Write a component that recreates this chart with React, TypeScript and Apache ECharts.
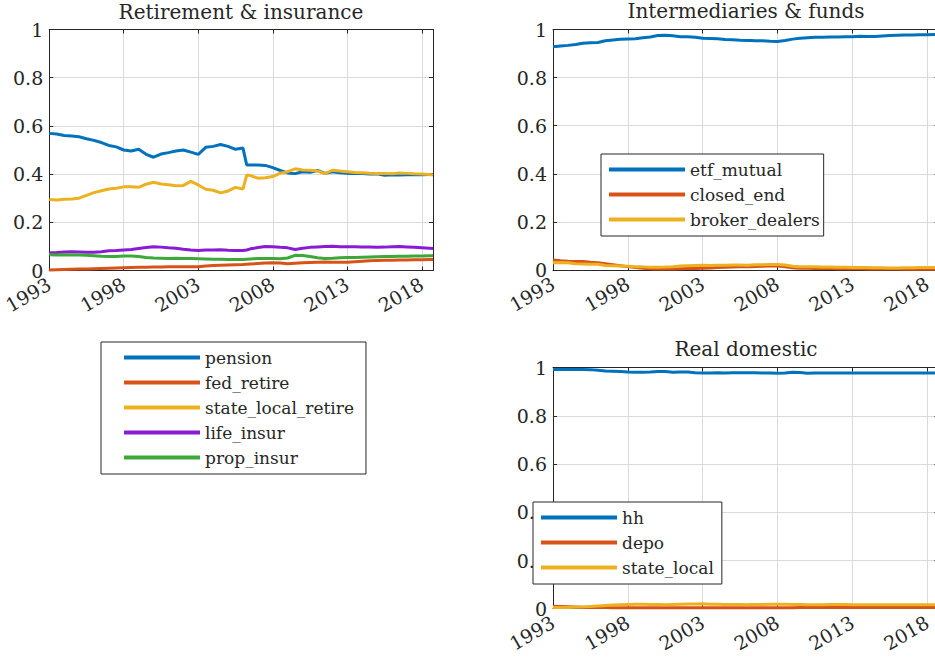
import React, { useEffect, useRef } from 'react';
import * as echarts from 'echarts';

// Sample dates (half-year steps, plus extra points)
const dates = [
  1993, 1993.5, 1994, 1994.5, 1995, 1995.5, 1996, 1996.5, 1997, 1997.5,
  1998, 1998.5, 1999, 1999.5, 2000, 2000.5, 2001, 2001.5, 2002, 2002.5,
  2003, 2003.5, 2004, 2004.5, 2005, 2005.5, 2006, 2006.25, 2006.5,
  2007, 2007.5, 2008, 2008.5, 2009, 2009.5, 2010, 2010.5, 2011, 2011.5,
  2012, 2012.5, 2013, 2013.5, 2014, 2014.5, 2015, 2015.5, 2016, 2016.5,
  2017, 2017.5, 2018, 2018.5, 2018.75,
];

const xTickStart = 1993;
const xTickStep = 5;
const xEnd = 2018.75;

// Retirement & insurance
const pension = [
  0.569, 0.566, 0.560, 0.558, 0.555, 0.547, 0.540, 0.531, 0.519, 0.513,
  0.500, 0.496, 0.503, 0.482, 0.470, 0.483, 0.489, 0.496, 0.500, 0.491,
  0.482, 0.511, 0.515, 0.523, 0.515, 0.503, 0.508, 0.438, 0.438,
  0.438, 0.436, 0.427, 0.415, 0.405, 0.402, 0.410, 0.408, 0.415, 0.403,
  0.410, 0.406, 0.403, 0.404, 0.402, 0.400, 0.401, 0.395, 0.397, 0.396,
  0.397, 0.398, 0.397, 0.398, 0.398,
];
const fedRetire = [
  0.002, 0.003, 0.004, 0.005, 0.006, 0.006, 0.007, 0.008, 0.009, 0.010,
  0.011, 0.012, 0.013, 0.014, 0.015, 0.015, 0.016, 0.016, 0.016, 0.016,
  0.016, 0.019, 0.021, 0.022, 0.023, 0.024, 0.025, 0.026, 0.027,
  0.029, 0.031, 0.032, 0.031, 0.028, 0.030, 0.032, 0.033, 0.034, 0.035,
  0.034, 0.034, 0.034, 0.036, 0.038, 0.040, 0.042, 0.043, 0.043, 0.044,
  0.044, 0.045, 0.045, 0.046, 0.046,
];
const stateLocalRetire = [
  0.295, 0.293, 0.296, 0.297, 0.300, 0.312, 0.323, 0.331, 0.338, 0.341,
  0.347, 0.348, 0.345, 0.358, 0.366, 0.359, 0.356, 0.352, 0.353, 0.370,
  0.355, 0.337, 0.333, 0.322, 0.330, 0.345, 0.338, 0.396, 0.394,
  0.383, 0.385, 0.390, 0.404, 0.410, 0.422, 0.417, 0.416, 0.413, 0.402,
  0.416, 0.413, 0.410, 0.407, 0.406, 0.404, 0.403, 0.403, 0.401, 0.405,
  0.403, 0.401, 0.400, 0.398, 0.396,
];
const lifeInsur = [
  0.074, 0.075, 0.077, 0.078, 0.077, 0.076, 0.076, 0.078, 0.082, 0.083,
  0.085, 0.087, 0.091, 0.095, 0.099, 0.097, 0.094, 0.092, 0.088, 0.085,
  0.083, 0.085, 0.085, 0.086, 0.084, 0.083, 0.083, 0.085, 0.090,
  0.095, 0.100, 0.099, 0.096, 0.094, 0.087, 0.092, 0.096, 0.098, 0.100,
  0.101, 0.099, 0.099, 0.099, 0.098, 0.097, 0.096, 0.097, 0.099, 0.100,
  0.098, 0.096, 0.094, 0.092, 0.091,
];
const propInsur = [
  0.065, 0.064, 0.065, 0.064, 0.064, 0.063, 0.061, 0.059, 0.058, 0.058,
  0.060, 0.060, 0.058, 0.054, 0.052, 0.051, 0.050, 0.051, 0.050, 0.050,
  0.049, 0.048, 0.047, 0.047, 0.046, 0.046, 0.046, 0.047, 0.048,
  0.050, 0.050, 0.050, 0.049, 0.052, 0.063, 0.062, 0.058, 0.053, 0.050,
  0.051, 0.053, 0.054, 0.054, 0.055, 0.056, 0.057, 0.058, 0.058, 0.059,
  0.059, 0.060, 0.060, 0.061, 0.061,
];

// Intermediaries & funds
const etfMutual = [
  0.928, 0.931, 0.934, 0.938, 0.943, 0.945, 0.946, 0.953, 0.956, 0.959,
  0.961, 0.962, 0.966, 0.969, 0.975, 0.976, 0.974, 0.970, 0.970, 0.968,
  0.964, 0.963, 0.962, 0.958, 0.957, 0.955, 0.954, 0.954, 0.953,
  0.953, 0.951, 0.950, 0.954, 0.960, 0.964, 0.966, 0.968, 0.968, 0.969,
  0.969, 0.970, 0.970, 0.972, 0.971, 0.971, 0.973, 0.975, 0.976, 0.977,
  0.977, 0.978, 0.978, 0.979, 0.979,
];
const closedEnd = [
  0.042, 0.038, 0.036, 0.035, 0.035, 0.032, 0.030, 0.026, 0.022, 0.018,
  0.014, 0.010, 0.007, 0.005, 0.004, 0.004, 0.004, 0.005, 0.006, 0.006,
  0.007, 0.008, 0.010, 0.011, 0.012, 0.013, 0.014, 0.014, 0.015,
  0.016, 0.017, 0.017, 0.013, 0.009, 0.007, 0.007, 0.006, 0.006, 0.006,
  0.005, 0.005, 0.005, 0.005, 0.004, 0.004, 0.004, 0.004, 0.004, 0.003,
  0.003, 0.003, 0.003, 0.003, 0.003,
];
const brokerDealers = [
  0.030, 0.031, 0.030, 0.026, 0.025, 0.024, 0.024, 0.019, 0.018, 0.017,
  0.016, 0.014, 0.013, 0.011, 0.011, 0.012, 0.014, 0.017, 0.018, 0.019,
  0.020, 0.019, 0.020, 0.020, 0.021, 0.021, 0.020, 0.021, 0.022,
  0.022, 0.023, 0.023, 0.021, 0.016, 0.014, 0.013, 0.013, 0.012, 0.012,
  0.011, 0.011, 0.010, 0.010, 0.010, 0.009, 0.009, 0.008, 0.008, 0.009,
  0.009, 0.010, 0.010, 0.010, 0.010,
];

// Real domestic
const hh = [
  0.993, 0.993, 0.993, 0.993, 0.993, 0.992, 0.989, 0.986, 0.985, 0.984,
  0.982, 0.981, 0.981, 0.982, 0.984, 0.984, 0.981, 0.982, 0.982, 0.979,
  0.978, 0.978, 0.979, 0.978, 0.979, 0.979, 0.979, 0.979, 0.979,
  0.978, 0.978, 0.977, 0.978, 0.981, 0.980, 0.977, 0.978, 0.978, 0.978,
  0.978, 0.978, 0.978, 0.978, 0.978, 0.978, 0.978, 0.978, 0.978, 0.978,
  0.978, 0.978, 0.978, 0.978, 0.978,
];
const depo = [
  0.010, 0.009, 0.008, 0.007, 0.006, 0.005, 0.005, 0.005, 0.004, 0.004,
  0.004, 0.004, 0.004, 0.004, 0.004, 0.004, 0.004, 0.004, 0.004, 0.004,
  0.004, 0.004, 0.004, 0.004, 0.004, 0.004, 0.004, 0.004, 0.004,
  0.004, 0.004, 0.004, 0.004, 0.004, 0.005, 0.005, 0.005, 0.005, 0.005,
  0.005, 0.005, 0.005, 0.005, 0.005, 0.005, 0.005, 0.005, 0.005, 0.005,
  0.005, 0.005, 0.005, 0.005, 0.005,
];
const stateLocal = [
  0.005, 0.005, 0.005, 0.006, 0.007, 0.009, 0.011, 0.013, 0.015, 0.016,
  0.017, 0.018, 0.018, 0.017, 0.017, 0.016, 0.017, 0.018, 0.019, 0.020,
  0.021, 0.018, 0.018, 0.017, 0.017, 0.017, 0.016, 0.017, 0.017,
  0.017, 0.018, 0.018, 0.018, 0.017, 0.017, 0.016, 0.016, 0.016, 0.017,
  0.017, 0.017, 0.016, 0.016, 0.016, 0.016, 0.016, 0.016, 0.016, 0.016,
  0.016, 0.016, 0.016, 0.016, 0.016,
];

const titles = ['Retirement & insurance', 'Intermediaries & funds', 'Real domestic'];
const legend1 = ['pension', 'fed_retire', 'state_local_retire', 'life_insur', 'prop_insur'];
const legend2 = ['etf_mutual', 'closed_end', 'broker_dealers'];
const legend3 = ['hh', 'depo', 'state_local'];

const BLUE = '#0072BD';
const ORANGE = '#D95319';
const YELLOW = '#EDB120';
const PURPLE = '#8A1BD4';
const GREEN = '#3DA83A';
const AX = '#262626';
const GRIDC = '#dadada';
const FONT = 'DejaVu Serif';

const pairs = (vals: number[]) => dates.map((d, i) => [d, vals[i]]);

function buildOption() {
  const grids = [
    { left: 49, top: 29.5, width: 384, height: 241 },
    { left: 553, top: 29.5, width: 385.5, height: 240.5 },
    { left: 553, top: 367.7, width: 385.5, height: 241 },
  ];
  const tickStyle = { show: true, inside: true, length: 4, lineStyle: { color: AX, width: 1 } };
  const lineAx = { show: true, onZero: false, lineStyle: { color: AX, width: 1 } };
  const xAxes: any[] = [];
  const yAxes: any[] = [];
  grids.forEach((_, g) => {
    xAxes.push({
      type: 'value', gridIndex: g, position: 'bottom', min: xTickStart, max: xEnd, interval: xTickStep,
      axisLine: lineAx, axisTick: tickStyle,
      axisLabel: {
        rotate: 30, margin: 12, fontFamily: FONT, fontSize: 19, color: AX, showMaxLabel: false,
        formatter: (v: number) => String(v),
      },
      splitLine: { show: true, lineStyle: { color: GRIDC, width: 1 } },
    });
    yAxes.push({
      type: 'value', gridIndex: g, position: 'left', min: 0, max: 1, interval: 0.2,
      axisLine: lineAx, axisTick: tickStyle,
      axisLabel: {
        margin: 6, fontFamily: FONT, fontSize: 19, color: AX,
        formatter: (v: number) => String(Math.round(v * 10) / 10),
      },
      splitLine: { show: true, lineStyle: { color: GRIDC, width: 1 } },
    });
  });
  grids.forEach((_, g) => {
    xAxes.push({
      type: 'value', gridIndex: g, position: 'top', min: xTickStart, max: xEnd, interval: xTickStep,
      axisLine: lineAx, axisTick: tickStyle, axisLabel: { show: false }, splitLine: { show: false },
    });
    yAxes.push({
      type: 'value', gridIndex: g, position: 'right', min: 0, max: 1, interval: 0.2,
      axisLine: lineAx, axisTick: tickStyle, axisLabel: { show: false }, splitLine: { show: false },
    });
  });

  const mk = (name: string, vals: number[], color: string, g: number) => ({
    name, type: 'line', xAxisIndex: g, yAxisIndex: g, data: pairs(vals),
    symbol: 'none', showSymbol: false, clip: false,
    lineStyle: { color, width: 3 }, itemStyle: { color },
  });

  const series = [
    mk('pension', pension, BLUE, 0),
    mk('fed_retire', fedRetire, ORANGE, 0),
    mk('state_local_retire', stateLocalRetire, YELLOW, 0),
    mk('life_insur', lifeInsur, PURPLE, 0),
    mk('prop_insur', propInsur, GREEN, 0),
    mk('etf_mutual', etfMutual, BLUE, 1),
    mk('closed_end', closedEnd, ORANGE, 1),
    mk('broker_dealers', brokerDealers, YELLOW, 1),
    mk('hh', hh, BLUE, 2),
    mk('depo', depo, ORANGE, 2),
    mk('state_local', stateLocal, YELLOW, 2),
  ];

  const legendBase = {
    orient: 'vertical', itemGap: 6, itemWidth: 76, itemHeight: 4, icon: 'rect',
    borderColor: AX, borderWidth: 1, backgroundColor: '#ffffff', selectedMode: false,
    textStyle: { fontFamily: FONT, fontSize: 17, color: AX, lineHeight: 19 },
  };

  const titleText = (text: string, x: number, y: number) => ({
    type: 'text', x, y, z: 10,
    style: { text, fill: AX, font: `20px "${FONT}"`, align: 'center', verticalAlign: 'middle' },
  });

  return {
    animation: false,
    backgroundColor: '#ffffff',
    textStyle: { fontFamily: FONT },
    grid: grids,
    xAxis: xAxes,
    yAxis: yAxes,
    series,
    legend: [
      { ...legendBase, data: legend1, left: 101, top: 342, padding: [6, 12, 7, 23] },
      { ...legendBase, data: legend2, left: 601, top: 154, padding: [6, 4, 7, 8] },
      { ...legendBase, data: legend3, left: 533, top: 502, padding: [6, 8, 7, 8] },
    ],
    graphic: [
      titleText(titles[0], 241, 11.5),
      titleText(titles[1], 746, 11),
      titleText(titles[2], 746, 348.5),
    ],
  };
}

export default function App() {
  const ref = useRef<HTMLDivElement>(null);
  useEffect(() => {
    if (!ref.current) return;
    const chart = echarts.init(ref.current, null, { renderer: 'svg' });
    chart.setOption(buildOption() as any);
    return () => chart.dispose();
  }, []);
  return (
    <div style={{ position: 'fixed', left: 0, top: 0, width: 935, height: 661, overflow: 'hidden', background: '#fff' }}>
      <div ref={ref} style={{ width: 945, height: 661 }} />
    </div>
  );
}
